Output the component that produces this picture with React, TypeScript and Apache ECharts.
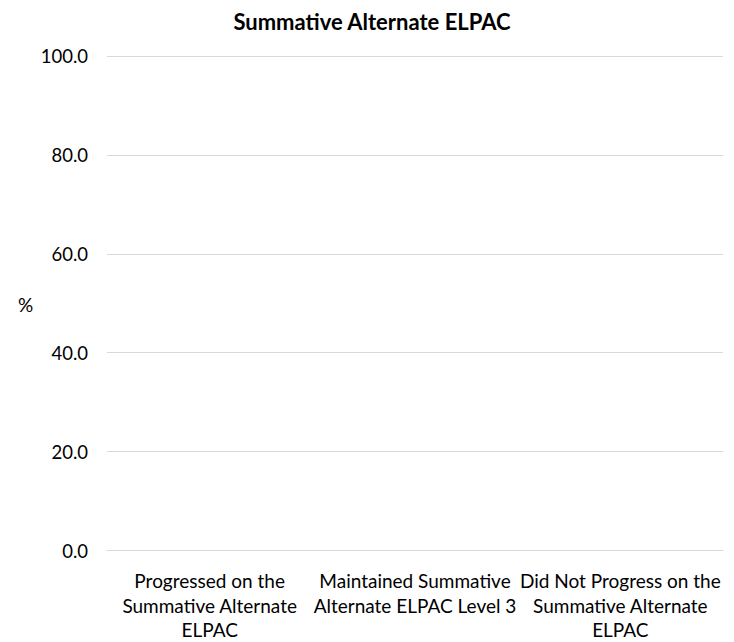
import React, { useEffect, useRef } from "react";
import * as echarts from "echarts";

const categories: string[] = [
  "Progressed on the Summative Alternate ELPAC",
  "Maintained Summative Alternate ELPAC Level 3",
  "Did Not Progress on the Summative Alternate ELPAC",
];
const wrappedLabels: string[] = [
  "Progressed on the\nSummative Alternate\nELPAC",
  "Maintained Summative\nAlternate ELPAC Level 3",
  "Did Not Progress on the\nSummative Alternate\nELPAC",
];
const values: (number | null)[] = [null, null, null];
const yTicks = { min: 0, max: 100, interval: 20 };
const titleText = "Summative Alternate ELPAC";
const yAxisName = "%";

const FONT = "Lato, 'Open Sans', sans-serif";

export default function App() {
  const ref = useRef<HTMLDivElement>(null);
  useEffect(() => {
    if (!ref.current) return;
    const chart = echarts.init(ref.current, null, { renderer: "svg" });
    chart.setOption({
      animation: false,
      backgroundColor: "#ffffff",
      title: {
        text: titleText,
        left: 367,
        top: 5,
        textAlign: "center",
        textStyle: { fontFamily: FONT, fontWeight: "bold", fontSize: 22, color: "#000" },
      },
      grid: { left: 107, right: 11, top: 56, bottom: 88, containLabel: false },
      graphic: [
        {
          type: "text",
          left: 18,
          top: 295,
          style: { text: yAxisName, font: `19px ${FONT}`, fill: "#000" },
        },
      ],
      xAxis: {
        type: "category",
        data: categories,
        axisLine: { show: true, lineStyle: { color: "#d9d9d9", width: 1 } },
        axisTick: { show: false },
        axisLabel: {
          interval: 0,
          margin: 18,
          fontFamily: FONT,
          fontSize: 19,
          lineHeight: 24.5,
          color: "#000",
          formatter: (_v: string, i: number) => wrappedLabels[i],
        },
      },
      yAxis: {
        type: "value",
        min: yTicks.min,
        max: yTicks.max,
        interval: yTicks.interval,
        axisLine: { show: false },
        axisTick: { show: false },
        splitLine: { lineStyle: { color: "#d9d9d9", width: 1 } },
        axisLabel: {
          margin: 19,
          fontFamily: FONT,
          fontSize: 18.5,
          color: "#000",
          formatter: (v: number) => v.toFixed(1),
        },
      },
      series: [
        {
          type: "bar",
          data: values,
          itemStyle: { color: "#4472c4" },
        },
      ],
    });
    return () => chart.dispose();
  }, []);
  return (
    <div
      ref={ref}
      style={{ position: "fixed", left: 0, top: 0, width: 734, height: 642 }}
    />
  );
}
